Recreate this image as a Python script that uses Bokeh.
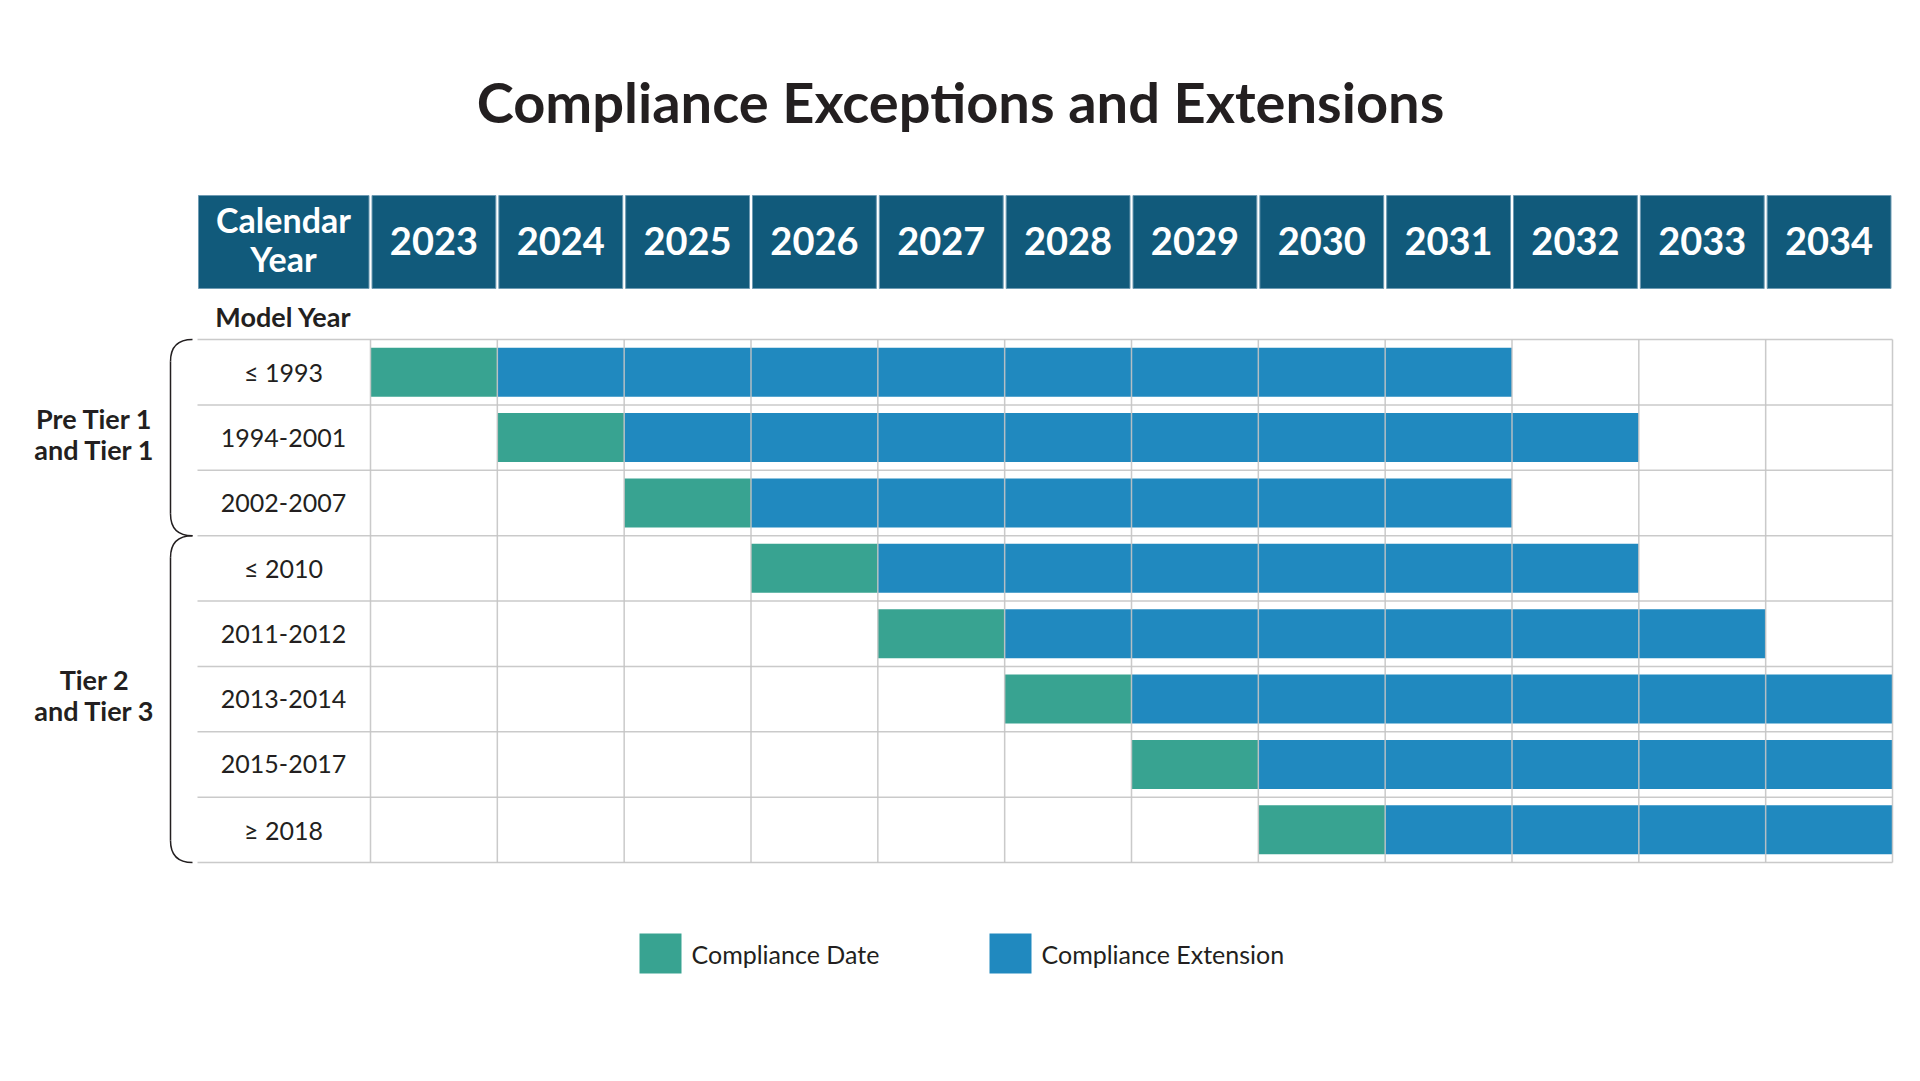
from bokeh.plotting import figure
from bokeh.models import Range1d
from bokeh.core.properties import value
from bokeh.embed import file_html
from bokeh.resources import INLINE

# ---------------- data ----------------
title = "Compliance Exceptions and Extensions"
years = [2023, 2024, 2025, 2026, 2027, 2028, 2029, 2030, 2031, 2032, 2033, 2034]
model_years = ["≤ 1993", "1994-2001", "2002-2007", "≤ 2010",
               "2011-2012", "2013-2014", "2015-2017", "≥ 2018"]
compliance_year = [2023, 2024, 2025, 2026, 2027, 2028, 2029, 2030]
extension_last_year = [2031, 2032, 2031, 2032, 2033, 2034, 2034, 2034]
groups = [["Pre Tier 1", "and Tier 1"], ["Tier 2", "and Tier 3"]]
group_rows = [(0, 3), (3, 8)]
legend_labels = ["Compliance Date", "Compliance Extension"]

# ---------------- style ----------------
GREEN = "#38A391"
BLUE = "#2089BF"
HEADER = "#115A7B"
TEXT = "#231F20"
GRID = "#c4c4c4"
FONT = value("Lato")

W, H = 1920, 1081
X0_PX, COL_PX = 370.0, 1522.0 / 12   # pixel x of first year column, column width
Y0_PX, ROW_PX = 339.0, 523.0 / 8     # pixel y of first row, row height

xs = years[0] - X0_PX / COL_PX
ys_top = -Y0_PX / ROW_PX
ys_bot = (H - Y0_PX) / ROW_PX


def X(px):
    return xs + px / COL_PX


def Y(py):
    return (py - Y0_PX) / ROW_PX


p = figure(width=W, height=H, output_backend="svg", toolbar_location=None,
           x_range=Range1d(xs, xs + W / COL_PX), y_range=Range1d(ys_bot, ys_top),
           min_border=0, outline_line_color=None, background_fill_color="white",
           border_fill_color="white")
p.axis.visible = False
p.grid.visible = False

n = len(model_years)
rows_c = [i + 0.5 for i in range(n)]

# ---------------- header ----------------
gap = 1.5 / COL_PX
p.quad(left=[y + gap for y in years], right=[y + 1 - gap for y in years],
       top=[Y(195)] * len(years), bottom=[Y(288)] * len(years),
       fill_color=HEADER, line_color="#6f9bb3", line_width=1)
p.quad(left=[X(198)], right=[years[0] - gap], top=[Y(195)], bottom=[Y(288)],
       fill_color=HEADER, line_color="#6f9bb3", line_width=1)
p.text(x=[y + 0.5 for y in years], y=[Y(240.5)] * len(years), text=[str(y) for y in years],
       text_font=FONT, text_font_size="38px", text_font_style="bold",
       text_color="white", text_align="center", text_baseline="middle")
p.text(x=[X(283), X(283)], y=[Y(219), Y(258)], text=["Calendar", "Year"],
       text_font=FONT, text_font_size="34px", text_font_style="bold",
       text_color="white", text_align="center", text_baseline="middle")
p.text(x=[X(283)], y=[Y(316)], text=["Model Year"],
       text_font=FONT, text_font_size="27px", text_font_style="bold",
       text_color=TEXT, text_align="center", text_baseline="middle")

# ---------------- bars ----------------
p.hbar(y=rows_c, left=compliance_year, right=[c + 1 for c in compliance_year],
       height=0.75, fill_color=GREEN, line_color=None)
p.hbar(y=rows_c, left=[c + 1 for c in compliance_year],
       right=[e + 1 for e in extension_last_year],
       height=0.75, fill_color=BLUE, line_color=None)

# ---------------- grid ----------------
vx = years + [years[-1] + 1]
p.segment(x0=vx, x1=vx, y0=[0] * len(vx), y1=[n] * len(vx),
          line_color=GRID, line_width=1.5, line_alpha=0.9)
hy = list(range(n + 1))
p.segment(x0=[X(197)] * len(hy), x1=[years[-1] + 1] * len(hy), y0=hy, y1=hy,
          line_color=GRID, line_width=1.5, line_alpha=0.9)

# ---------------- row labels ----------------
p.text(x=[X(283)] * n, y=rows_c, text=model_years,
       text_font=FONT, text_font_size="25px", text_color=TEXT,
       text_align="center", text_baseline="middle")

# ---------------- group braces & labels ----------------
r = 22.0 / ROW_PX
xr, xl = X(192), X(170)
for (a, b), lines in zip(group_rows, groups):
    p.bezier(x0=[xr], y0=[a], x1=[xl], y1=[a + r],
             cx0=[X(177)], cy0=[a], cx1=[xl], cy1=[a + r * 0.35],
             line_color=TEXT, line_width=1.5)
    p.segment(x0=[xl], y0=[a + r], x1=[xl], y1=[b - r], line_color=TEXT, line_width=1.5)
    p.bezier(x0=[xl], y0=[b - r], x1=[xr], y1=[b],
             cx0=[xl], cy0=[b - r * 0.35], cx1=[X(177)], cy1=[b],
             line_color=TEXT, line_width=1.5)
    mid = (a + b) / 2 - 4 / ROW_PX
    p.text(x=[X(94), X(94)], y=[mid - 15.5 / ROW_PX, mid + 15.5 / ROW_PX], text=lines,
           text_font=FONT, text_font_size="27px", text_font_style="bold",
           text_color=TEXT, text_align="center", text_baseline="middle")

# ---------------- title ----------------
p.text(x=[X(960)], y=[Y(101)], text=[title], text_font=FONT, text_font_size="56px",
       text_font_style="bold", text_color=TEXT, text_align="center", text_baseline="middle")

# ---------------- legend ----------------
sw_left = [X(639), X(989)]
p.quad(left=sw_left, right=[s + 42 / COL_PX for s in sw_left],
       top=[Y(933)] * 2, bottom=[Y(973)] * 2, fill_color=[GREEN, BLUE], line_color=None)
p.text(x=[X(691), X(1041)], y=[Y(953)] * 2, text=legend_labels,
       text_font=FONT, text_font_size="25px", text_color=TEXT,
       text_align="left", text_baseline="middle")

open("out.html", "w").write(file_html(p, INLINE))
